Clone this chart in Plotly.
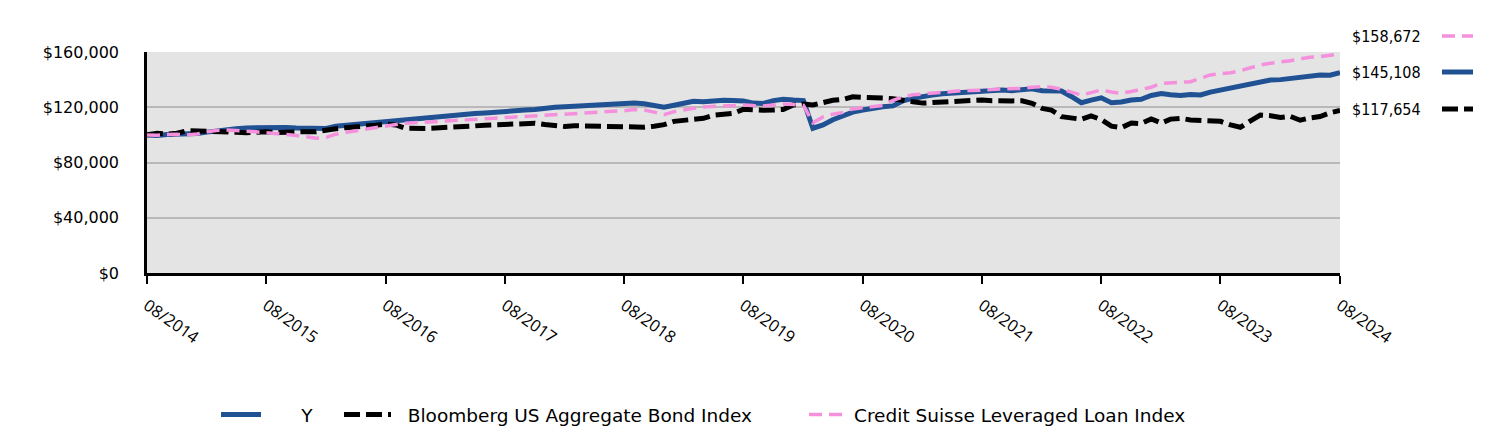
import plotly.graph_objects as go

# Monthly values, 08/2014 .. 08/2024 (growth of $100,000)
fund_y = [100000, 99600, 100200, 100500, 100400, 101000, 102000, 103000, 103800, 104500,
          105000, 105200, 105500, 105200, 105400, 105000, 104800, 104300, 104600, 106300,
          107000, 107800, 108500, 109300, 110000, 110800, 111500, 112200, 112800, 113400,
          114000, 114500, 115000, 115400, 115800, 116500, 117000, 117500, 118000, 118400,
          119600, 120000, 120400, 120800, 121000, 121300, 121800, 122300, 122800, 123000,
          122500, 121300, 120000, 121500, 123200, 124300, 124000, 124600, 125000, 124800,
          124600, 123000, 122800, 124800, 125800, 125200, 124800, 104800, 107200, 111000,
          114000, 116500, 118000, 119600, 120400, 121000, 124600, 126500, 128000, 128800,
          129800, 130300, 130800, 131300, 131700, 132400, 132400, 132000, 132900, 133400,
          132000, 132200, 131800, 127800, 123300, 125200, 126800, 123300, 123800, 125300,
          125800, 128500, 130000, 129000, 128500, 129300, 128900, 131000, 132500, 134000,
          135200, 136200, 138500, 139700, 140000, 141000, 141800, 143000, 143400, 143200,
          145108]

bond_index = [100000, 101100, 100500, 101200, 103000, 102800, 102600, 103200, 102400, 101900,
              101600, 102000, 102300, 101700, 102000, 102600, 102300, 102300, 103600, 104500,
              105200, 105600, 106000, 107000, 107900, 107200, 104800, 104500, 104700, 105000,
              105600, 106000, 106000, 106500, 107000, 107400, 107900, 107700, 108000, 108400,
              107500, 106300, 106000, 106600, 106400, 106200, 106400, 106200, 106500, 106000,
              105600, 106300, 107400, 109800, 110300, 111300, 112000, 114200, 115000, 115600,
              118500, 118000, 117800, 118000, 118400, 121600, 122300, 121600, 123500, 125000,
              125700, 127600, 127200, 126500, 126700, 126200, 124800, 124000, 123000, 123400,
              124000, 124100, 125200, 125700, 125300, 124700, 125000, 124600, 124700, 122900,
              119200, 118000, 113200, 112500, 111300, 113800, 111000, 106300, 105200, 108600,
              108200, 111500, 108600, 111400, 112000, 110800, 110600, 110400, 109800, 107200,
              105500, 110200, 114400, 113900, 112600, 113500, 110600, 112300, 113300, 116000,
              117654]

loan_index = [100000, 99800, 100300, 100500, 100000, 100600, 102200, 103200, 103500, 103200,
              102600, 102200, 101500, 101000, 100500, 99600, 98600, 97600, 98200, 100500,
              101800, 103000, 104200, 105200, 106200, 107500, 108400, 108800, 109200, 109800,
              110300, 110600, 110800, 111200, 111800, 112300, 112800, 113100, 113500, 113700,
              114300, 114600, 115000, 115400, 115800, 116200, 116600, 117000, 117500, 118300,
              118000, 116500, 114600, 116800, 118400, 119200, 120200, 120500, 120800, 121400,
              121600, 121200, 121000, 121600, 122400, 122000, 121400, 108800, 113000, 115000,
              116300, 118800, 119800, 120400, 121300, 125000, 127400, 129000, 129600, 130400,
              131300, 131600, 132000, 132100, 132200, 132800, 133400, 133300, 133600, 134500,
              134900, 134400, 133000, 131000, 128900, 130600, 132500, 131000, 130100, 131400,
              133000, 134500, 137300, 137700, 138000, 138500, 141000, 143400, 144200, 145000,
              146500, 148600, 150600, 151800, 152600, 153700, 155000, 156200, 156600, 157600,
              158672]

series_names = ["Y", "Bloomberg US Aggregate Bond Index", "Credit Suisse Leveraged Loan Index"]
tick_years = list(range(2014, 2025))
tick_labels = [f"08/{y}" for y in tick_years]
y_ticks = [0, 40000, 80000, 120000, 160000]
y_tick_labels = [f"${v:,}" for v in y_ticks]

months = [f"{2014 + (7 + i) // 12}-{(7 + i) % 12 + 1:02d}-01" for i in range(len(fund_y))]
tick_dates = [f"{y}-08-01" for y in tick_years]

BLUE = "#1f5193"
BLACK = "#000000"
PINK = "#f590dc"
FONT = "DejaVu Sans"
NB = "\u00a0"

L, R, T, B = 147, 172, 52, 159
W, H = 1512, 432
pw, ph = W - L - R, H - T - B

def px_x(x):
    return (x - L) / pw

def px_y(y):
    return (H - B - y) / ph

# legend label spacing (leading non-breaking spaces) per entry
pads = [6, 2, 0]

fig = go.Figure()
fig.add_trace(go.Scatter(x=months, y=fund_y, mode="lines", name=NB * pads[0] + series_names[0],
                         line=dict(color=BLUE, width=5), legend="legend"))
fig.add_trace(go.Scatter(x=months, y=bond_index, mode="lines", name=NB * pads[1] + series_names[1],
                         line=dict(color=BLACK, width=5, dash="16px,6px"), legend="legend2"))
fig.add_trace(go.Scatter(x=months, y=loan_index, mode="lines", name=NB * pads[2] + series_names[2],
                         line=dict(color=PINK, width=3.5, dash="13px,7px"), legend="legend3"))

leg_common = dict(orientation="h", yanchor="bottom", y=px_y(434), xanchor="left",
                  font=dict(family=FONT, size=18.5, color="black"),
                  bgcolor="rgba(0,0,0,0)")

fig.update_layout(
    width=W, height=H,
    margin=dict(l=L, r=R, t=T, b=B, pad=0, autoexpand=False),
    paper_bgcolor="white",
    plot_bgcolor="#e4e4e4",
    font=dict(family=FONT, size=16, color="black"),
    showlegend=True,
    legend=dict(x=px_x(216), itemwidth=40, **leg_common),
    legend2=dict(x=px_x(339), itemwidth=47, **leg_common),
    legend3=dict(x=px_x(804), itemwidth=40, **leg_common),
    xaxis=dict(range=[months[0], months[-1]], tickmode="array", tickvals=tick_dates,
               ticktext=tick_labels, tickangle=35,
               tickfont=dict(family="Open Sans", size=16.5, color="black"),
               showgrid=False, showline=True, linecolor="black", linewidth=2.5,
               ticks="outside", ticklen=8, tickwidth=2, tickcolor="black",
               zeroline=False, ticklabelstandoff=6),
    yaxis=dict(range=[0, 160000], tickmode="array", tickvals=y_ticks, ticktext=y_tick_labels,
               tickfont=dict(family=FONT, size=16, color="black"),
               showgrid=True, gridcolor="#b9b9b9", gridwidth=2,
               showline=True, linecolor="black", linewidth=2.5,
               zeroline=False, ticks="outside", ticklen=22, tickcolor="rgba(0,0,0,0)"),
)

# Right-side end-value labels with line samples
end_items = [
    (loan_index[-1], PINK, 3.5, "13px,7px", 36),
    (fund_y[-1], BLUE, 5, "solid", 72),
    (bond_index[-1], BLACK, 5, "16px,6px", 109),
]
for val, col, w, dash, ypx in end_items:
    fig.add_annotation(xref="paper", yref="paper", x=px_x(1350), y=px_y(ypx),
                       text=f"${val:,.0f}", showarrow=False, xanchor="left", yanchor="middle",
                       font=dict(family="DejaVu Sans Condensed", size=16, color="black"))
    fig.add_shape(type="line", xref="paper", yref="paper",
                  x0=px_x(1442), x1=px_x(1473), y0=px_y(ypx), y1=px_y(ypx),
                  line=dict(color=col, width=w, dash=dash))

fig.write_html("out.html")
